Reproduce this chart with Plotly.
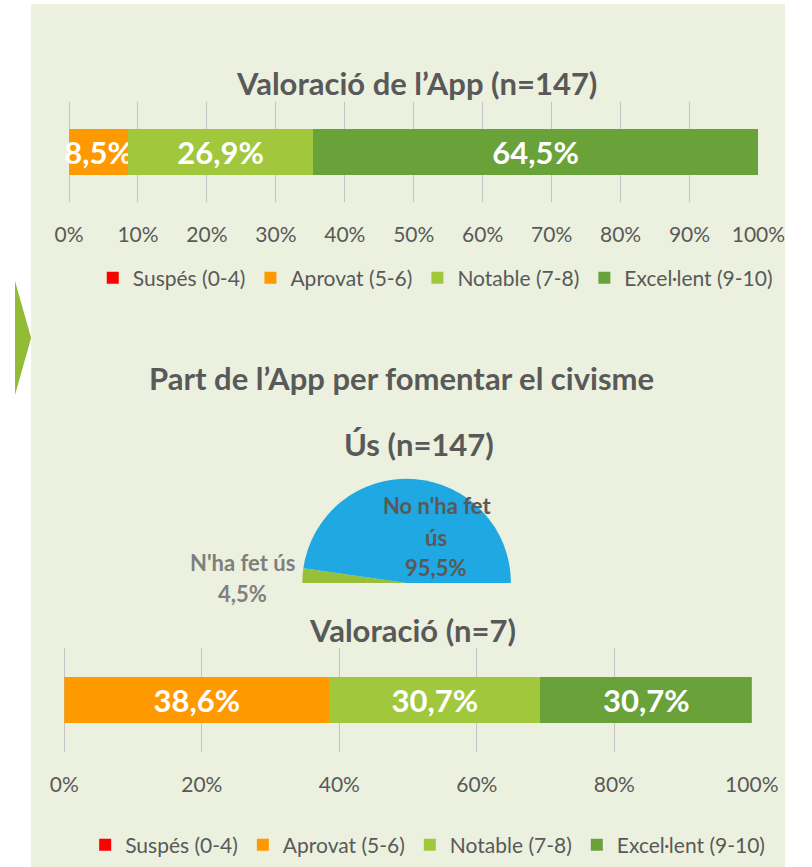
import plotly.graph_objects as go

# ---------------- data ----------------
categories = ["Suspés (0-4)", "Aprovat (5-6)", "Notable (7-8)", "Excel·lent (9-10)"]
app_values = [0, 8.5, 26.9, 64.5]          # Valoració de l’App (n=147), %
civ_values = [0, 38.6, 30.7, 30.7]         # Valoració (n=7), %
use_labels = ["N'ha fet ús", "No n'ha fet ús"]
use_values = [4.5, 95.5]                   # Ús (n=147), %
x_ticks = [0, 10, 20, 30, 40, 50, 60, 70, 80, 90, 100]
x_ticks2 = [0, 20, 40, 60, 80, 100]

title1 = "Valoració de l’App (n=147)"
title2 = "Part de l’App per fomentar el civisme"
title3 = "Ús (n=147)"
title4 = "Valoració (n=7)"

# ---------------- style ----------------
W, H = 812, 867
bar_colors = ["#FF0000", "#FF9900", "#A1C83C", "#6AA23A"]
pie_colors = ["#97BF38", "#1FA8E2"]
GRAY = "#595959"
GRID = "#C3C3C3"
FONT = "Lato"


def px_x(p):
    return p / W


def px_y(p):
    return 1 - p / H


def fmt(v):
    return ("%.1f%%" % v).replace(".", ",")


fig = go.Figure()

for i, cat in enumerate(categories):
    fig.add_trace(go.Bar(
        x=[app_values[i] / 100], y=[0], orientation="h", width=0.46,
        name=cat, marker=dict(color=bar_colors[i], line=dict(width=0)),
        text=[fmt(app_values[i]) if app_values[i] > 0 else ""],
        textposition="inside", insidetextanchor="middle", constraintext="none",
        cliponaxis=False,
        textfont=dict(family=FONT, size=31, color="white", weight="bold"),
        xaxis="x", yaxis="y", legend="legend", hoverinfo="skip",
    ))

for i, cat in enumerate(categories):
    fig.add_trace(go.Bar(
        x=[civ_values[i] / 100], y=[0], orientation="h", width=0.44,
        name=cat, marker=dict(color=bar_colors[i], line=dict(width=0)),
        text=[fmt(civ_values[i]) if civ_values[i] > 0 else ""],
        textposition="inside", insidetextanchor="middle", constraintext="none",
        cliponaxis=False,
        textfont=dict(family=FONT, size=31, color="white", weight="bold"),
        xaxis="x2", yaxis="y2", legend="legend2", hoverinfo="skip",
    ))

# half pie: hidden slice equal to the total occupies the lower half
fig.add_trace(go.Pie(
    labels=use_labels + [""], values=use_values + [sum(use_values)],
    marker=dict(colors=pie_colors + ["rgba(0,0,0,0)"], line=dict(width=0)),
    sort=False, direction="clockwise", rotation=270,
    textinfo="none", hoverinfo="skip", showlegend=False,
    domain=dict(x=[px_x(303), px_x(523)], y=[px_y(693), px_y(473)]),
))

axis_common = dict(
    tickformat=".0%", showgrid=True, gridcolor=GRID, gridwidth=1,
    zeroline=True, zerolinecolor=GRID, zerolinewidth=1,
    showline=False, ticks="", ticklabelstandoff=18,
    tickfont=dict(family=FONT, size=21, color=GRAY), fixedrange=True,
)

fig.update_layout(
    width=W, height=H, margin=dict(l=0, r=0, t=0, b=0),
    paper_bgcolor="white", plot_bgcolor="rgba(0,0,0,0)",
    barmode="stack", bargap=0,
    font=dict(family=FONT, color=GRAY),
    xaxis=dict(domain=[px_x(57), px_x(784)], range=[0, 1.0],
               tickvals=[t / 100 for t in x_ticks], anchor="y", **axis_common),
    yaxis=dict(domain=[px_y(202), px_y(102)], range=[-0.5, 0.5],
               visible=False, fixedrange=True),
    xaxis2=dict(domain=[px_x(52), px_x(777)], range=[0, 1.0],
                tickvals=[t / 100 for t in x_ticks2], anchor="y2", **axis_common),
    yaxis2=dict(domain=[px_y(752), px_y(648)], range=[-0.5, 0.5],
                visible=False, fixedrange=True),
    legend=dict(orientation="h", x=px_x(82), y=px_y(278), xanchor="left", yanchor="middle",
                font=dict(family=FONT, size=21, color=GRAY), bgcolor="rgba(0,0,0,0)",
                traceorder="normal", itemclick=False, itemdoubleclick=False),
    legend2=dict(orientation="h", x=px_x(74), y=px_y(845), xanchor="left", yanchor="middle",
                 font=dict(family=FONT, size=21, color=GRAY), bgcolor="rgba(0,0,0,0)",
                 traceorder="normal", itemclick=False, itemdoubleclick=False),
)

# background panel and arrow
fig.add_shape(type="rect", xref="paper", yref="paper",
              x0=px_x(17), x1=1, y0=0, y1=px_y(4),
              fillcolor="#EBF1DE", line=dict(width=0), layer="below")
fig.add_shape(type="path", xref="paper", yref="paper",
              path="M %f,%f L %f,%f L %f,%f Z" % (px_x(0), px_y(281), px_x(17), px_y(338),
                                                   px_x(0), px_y(395)),
              fillcolor="#92BC35", line=dict(width=0), layer="below")

# titles
def add_text(txt, x, y, size, color=GRAY, bold=True):
    fig.add_annotation(text=txt, xref="paper", yref="paper", x=px_x(x), y=px_y(y),
                       xanchor="center", yanchor="middle", showarrow=False,
                       font=dict(family=FONT, size=size, color=color,
                                 weight="bold" if bold else "normal"))

add_text(title1, 423, 83, 31)
add_text(title2, 408, 378, 31)
add_text(title3, 426, 444, 31)
add_text(title4, 419, 630, 31)

# pie labels
add_text("No n'ha fet", 445, 505, 22)
add_text(use_labels[1].split(" ")[-1], 444, 537, 22)
add_text(fmt(use_values[1]), 443, 567, 22)
add_text(use_labels[0], 240, 562, 22, color="#7F7F7F")
add_text(fmt(use_values[0]), 240, 593, 22, color="#7F7F7F")

fig.write_html(
    "out.html",
    config={"responsive": False, "displayModeBar": False},
    post_script="document.body.style.margin='0px';document.body.style.overflow='hidden';",
)
